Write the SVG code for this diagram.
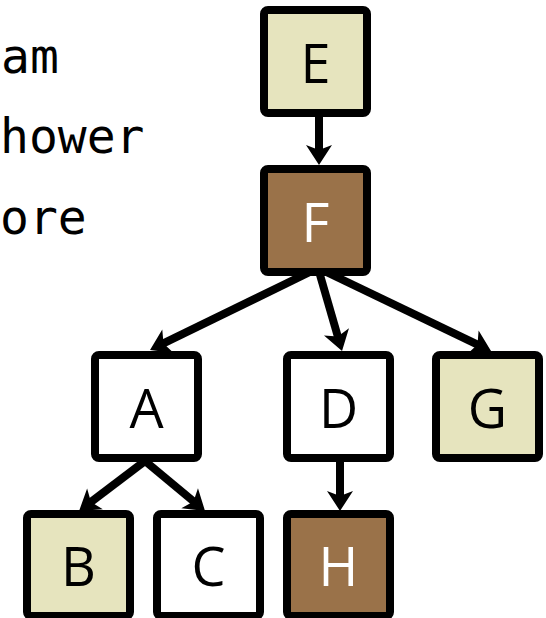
<svg xmlns="http://www.w3.org/2000/svg" width="546" height="618" viewBox="0 0 546 618">
  <style>
    .box { stroke: #000; stroke-width: 8; }
    .plain { fill: #ffffff; }
    .tan { fill: #e6e4be; }
    .brown { fill: #9a7249; }
    .lbl { font-family: "Open Sans", "Noto Sans", sans-serif; font-size: 54px; text-anchor: middle; fill: #000; }
    .lbl.light { fill: #ffffff; }
    .side { font-family: "DejaVu Sans Mono", "Liberation Mono", monospace; font-size: 48px; fill: #000; }
    .edge { stroke: #000; stroke-width: 8; fill: none; marker-end: url(#head); }
  </style>
  <defs>
    <marker id="head" markerUnits="userSpaceOnUse" viewBox="-20 -16 40 32" markerWidth="40" markerHeight="32" refX="0" refY="0" orient="auto">
      <path d="M12,0 L-8,-13 L-3,0 L-8,13 Z" fill="#000"/>
    </marker>
  </defs>

  <g id="side-text">
    <text class="side" x="1" y="73">am</text>
    <text class="side" x="0" y="153">hower</text>
    <text class="side" x="0" y="234">ore</text>
  </g>

  <g id="connectors">
    <line class="edge" x1="319" y1="117" x2="319" y2="153"/>
    <line class="edge" x1="318" y1="268" x2="160.8" y2="344.7"/>
    <line class="edge" x1="318" y1="268" x2="338.7" y2="339.5"/>
    <line class="edge" x1="318" y1="268" x2="480.2" y2="345.8"/>
    <line class="edge" x1="145" y1="461" x2="88.6" y2="503.8"/>
    <line class="edge" x1="145" y1="461" x2="195.8" y2="503.3"/>
    <line class="edge" x1="340" y1="462" x2="340" y2="499"/>
  </g>

  <g id="E">
    <rect class="box tan" x="264" y="10" width="103" height="103" rx="4"/>
    <text class="lbl" x="315.5" y="82.5">E</text>
  </g>
  <g id="F">
    <rect class="box brown" x="264" y="169" width="103" height="103" rx="4"/>
    <text class="lbl light" x="315.5" y="241.5">F</text>
  </g>
  <g id="A">
    <rect class="box plain" x="95" y="355" width="103" height="103" rx="4"/>
    <text class="lbl" x="146.5" y="427.5">A</text>
  </g>
  <g id="D">
    <rect class="box plain" x="287" y="355" width="103" height="103" rx="4"/>
    <text class="lbl" x="338.5" y="427.5">D</text>
  </g>
  <g id="G">
    <rect class="box tan" x="436" y="355" width="103" height="103" rx="4"/>
    <text class="lbl" x="487.5" y="427.5">G</text>
  </g>
  <g id="B">
    <rect class="box tan" x="27" y="514" width="103" height="102" rx="4"/>
    <text class="lbl" x="78.5" y="586">B</text>
  </g>
  <g id="C">
    <rect class="box plain" x="157" y="514" width="103" height="102" rx="4"/>
    <text class="lbl" x="208.5" y="586">C</text>
  </g>
  <g id="H">
    <rect class="box brown" x="287" y="514" width="103" height="102" rx="4"/>
    <text class="lbl light" x="338.5" y="586">H</text>
  </g>
</svg>
